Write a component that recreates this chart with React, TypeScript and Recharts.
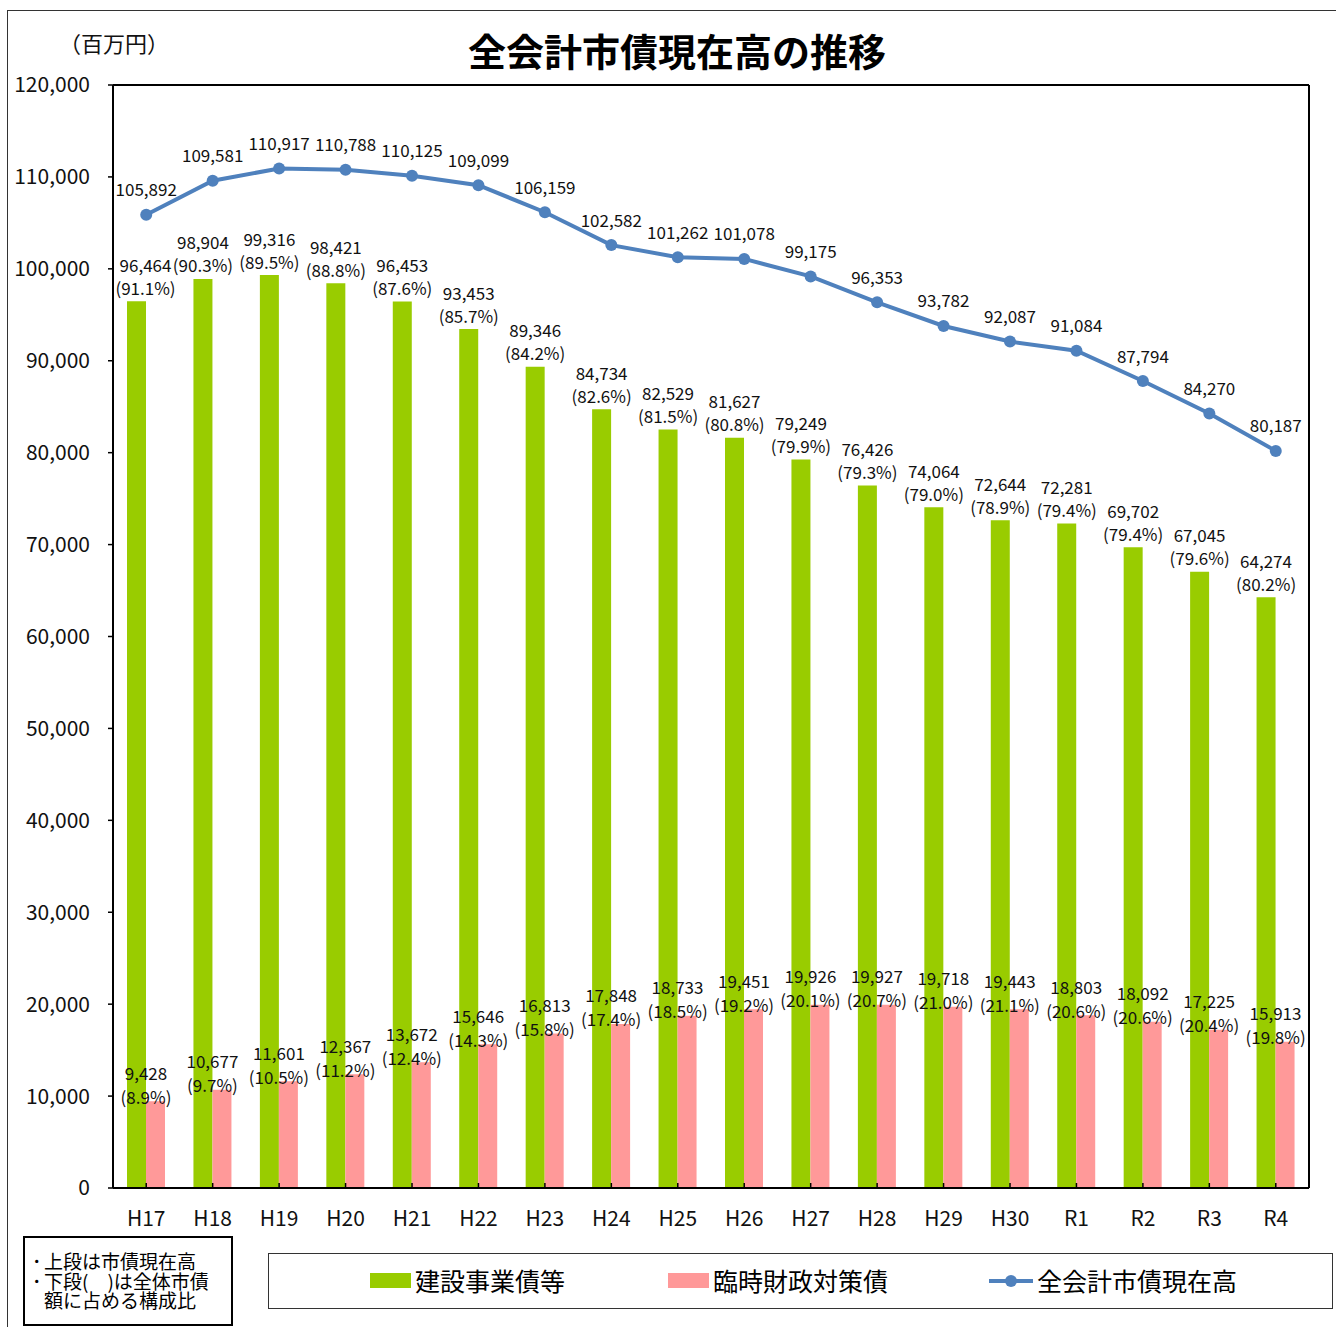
import { ComposedChart, Bar, Line, XAxis, YAxis, LabelList } from "recharts";

/* ─── 全会計市債現在高の推移 ─────────────────────────────────────────────
 * green  #99cc00  建設事業債等
 * pink   #ff9999  臨時財政対策債
 * blue   #4f81bd  全会計市債現在高
 * ───────────────────────────────────────────────────────────────────── */
const GREEN = "#99cc00";
const PINK = "#ff9999";
const BLUE = "#4f81bd";
const FONT = "'Noto Sans CJK JP', 'Noto Sans', sans-serif";

const YEARS = ["H17", "H18", "H19", "H20", "H21", "H22", "H23", "H24", "H25", "H26", "H27", "H28", "H29", "H30", "R1", "R2", "R3", "R4"];
const TOTAL = [105892, 109581, 110917, 110788, 110125, 109099, 106159, 102582, 101262, 101078, 99175, 96353, 93782, 92087, 91084, 87794, 84270, 80187];
const CONSTRUCTION = [96464, 98904, 99316, 98421, 96453, 93453, 89346, 84734, 82529, 81627, 79249, 76426, 74064, 72644, 72281, 69702, 67045, 64274];
const CONSTRUCTION_PCT = [91.1, 90.3, 89.5, 88.8, 87.6, 85.7, 84.2, 82.6, 81.5, 80.8, 79.9, 79.3, 79.0, 78.9, 79.4, 79.4, 79.6, 80.2];
const TEMP = [9428, 10677, 11601, 12367, 13672, 15646, 16813, 17848, 18733, 19451, 19926, 19927, 19718, 19443, 18803, 18092, 17225, 15913];
const TEMP_PCT = [8.9, 9.7, 10.5, 11.2, 12.4, 14.3, 15.8, 17.4, 18.5, 19.2, 20.1, 20.7, 21.0, 21.1, 20.6, 20.6, 20.4, 19.8];
const Y_TICKS = [0, 10000, 20000, 30000, 40000, 50000, 60000, 70000, 80000, 90000, 100000, 110000, 120000];

const data = YEARS.map((year, i) => ({
  year,
  total: TOTAL[i],
  construction: CONSTRUCTION[i],
  temp: TEMP[i],
}));

const fmt = (v: number) => v.toLocaleString("en-US");

const LABEL_TEXT = { fontSize: 17, fontFamily: FONT, fill: "#111" };

function GreenLabel(props: any) {
  const { x, y, width, index } = props;
  const cx = x + width / 2 + (index === 0 ? 9 : 0);
  return (
    <g>
      <text x={cx} y={y - 37} textAnchor="middle" dominantBaseline="central" {...LABEL_TEXT}>
        {fmt(CONSTRUCTION[index])}
      </text>
      <text x={cx} y={y - 14} textAnchor="middle" dominantBaseline="central" {...LABEL_TEXT}>
        ({CONSTRUCTION_PCT[index].toFixed(1)}%)
      </text>
    </g>
  );
}

function PinkLabel(props: any) {
  const { x, y, index } = props;
  return (
    <g>
      <text x={x} y={y - 29} textAnchor="middle" dominantBaseline="central" {...LABEL_TEXT}>
        {fmt(TEMP[index])}
      </text>
      <text x={x} y={y - 5} textAnchor="middle" dominantBaseline="central" {...LABEL_TEXT}>
        ({TEMP_PCT[index].toFixed(1)}%)
      </text>
    </g>
  );
}

function LineLabel(props: any) {
  const { x, y, index } = props;
  return (
    <text x={x} y={y - 26} textAnchor="middle" dominantBaseline="central" {...LABEL_TEXT}>
      {fmt(TOTAL[index])}
    </text>
  );
}

const AXIS_LINE = { stroke: "#000", strokeWidth: 2 };

const NOTE_LINE = { position: "absolute" as const, left: 19, height: 20, lineHeight: "20px", whiteSpace: "nowrap" as const };
const BULLET = { position: "absolute" as const, left: -12, top: 0 };

export default function App() {
  return (
    <div
      style={{
        position: "absolute",
        left: 0,
        top: 0,
        width: 1336,
        height: 1327,
        overflow: "hidden",
        background: "#fff",
        fontFamily: FONT,
      }}
    >
      {/* outer frame (runs off the right and bottom edges) */}
      <div
        style={{
          position: "absolute",
          left: 7,
          top: 10,
          width: 1400,
          height: 1400,
          border: "1.5px solid #333",
          boxSizing: "border-box",
        }}
      />

      <div
        style={{
          position: "absolute",
          left: 0,
          width: 1354,
          top: 26,
          textAlign: "center",
          fontSize: 38,
          fontWeight: 700,
          lineHeight: "48px",
          color: "#000",
        }}
      >
        全会計市債現在高の推移
      </div>
      <div style={{ position: "absolute", left: 59, top: 27, fontSize: 22, lineHeight: "30px", color: "#111" }}>
        （百万円）
      </div>

      <div style={{ position: "absolute", left: 0, top: 0 }}>
        <ComposedChart
          width={1336}
          height={1327}
          data={data}
          margin={{ top: 84, right: 26, bottom: 99, left: 0 }}
          barSize={19}
          barGap={0}
        >
          <XAxis
            dataKey="year"
            height={40}
            axisLine={AXIS_LINE}
            tickLine={{ stroke: "#000", strokeWidth: 1.5 }}
            tickSize={-5}
            tickMargin={28}
            tick={{ fontSize: 21, fontFamily: FONT, fill: "#111" }}
          />
          <XAxis
            xAxisId="top"
            dataKey="year"
            orientation="top"
            height={1}
            tick={false}
            tickLine={false}
            axisLine={AXIS_LINE}
          />
          <YAxis
            domain={[0, 120000]}
            ticks={Y_TICKS}
            interval={0}
            width={113}
            axisLine={AXIS_LINE}
            tickLine={{ stroke: "#000", strokeWidth: 1.5 }}
            tickSize={5}
            tickMargin={18}
            tickFormatter={(v: number) => fmt(v)}
            tick={{ fontSize: 21, fontFamily: FONT, fill: "#111" }}
          />
          <YAxis
            yAxisId="right"
            orientation="right"
            width={1}
            tick={false}
            tickLine={false}
            axisLine={AXIS_LINE}
          />
          <Bar dataKey="construction" fill={GREEN} isAnimationActive={false}>
            <LabelList dataKey="construction" content={GreenLabel} />
          </Bar>
          <Bar dataKey="temp" fill={PINK} isAnimationActive={false}>
            <LabelList dataKey="temp" content={PinkLabel} />
          </Bar>
          <Line
            dataKey="total"
            type="linear"
            stroke={BLUE}
            strokeWidth={4}
            dot={{ r: 6, fill: BLUE, stroke: BLUE, strokeWidth: 0 }}
            isAnimationActive={false}
          >
            <LabelList dataKey="total" content={LineLabel} />
          </Line>
        </ComposedChart>
      </div>

      {/* note box */}
      <div
        style={{
          position: "absolute",
          left: 23,
          top: 1236,
          width: 210,
          height: 90,
          border: "2px solid #000",
          boxSizing: "border-box",
          fontSize: 19,
          color: "#000",
        }}
      >
        <div style={{ ...NOTE_LINE, top: 13 }}>
          <span style={BULLET}>･</span>上段は市債現在高
        </div>
        <div style={{ ...NOTE_LINE, top: 33 }}>
          <span style={BULLET}>･</span>下段(　)は全体市債
        </div>
        <div style={{ ...NOTE_LINE, top: 52 }}>額に占める構成比</div>
      </div>

      {/* legend */}
      <div
        style={{
          position: "absolute",
          left: 268,
          top: 1253,
          width: 1065,
          height: 56,
          border: "1.5px solid #333",
          boxSizing: "border-box",
        }}
      >
        <div style={{ position: "absolute", left: 101, top: 19, width: 41, height: 15, background: GREEN }} />
        <div style={{ position: "absolute", left: 146, top: 10, fontSize: 25, lineHeight: "32px" }}>建設事業債等</div>
        <div style={{ position: "absolute", left: 399, top: 19, width: 41, height: 15, background: PINK }} />
        <div style={{ position: "absolute", left: 444, top: 10, fontSize: 25, lineHeight: "32px" }}>臨時財政対策債</div>
        <svg style={{ position: "absolute", left: 719, top: 14 }} width={46} height={26}>
          <line x1={1} y1={13} x2={45} y2={13} stroke={BLUE} strokeWidth={4} />
          <circle cx={23} cy={13} r={6} fill={BLUE} />
        </svg>
        <div style={{ position: "absolute", left: 768, top: 10, fontSize: 25, lineHeight: "32px" }}>全会計市債現在高</div>
      </div>
    </div>
  );
}
